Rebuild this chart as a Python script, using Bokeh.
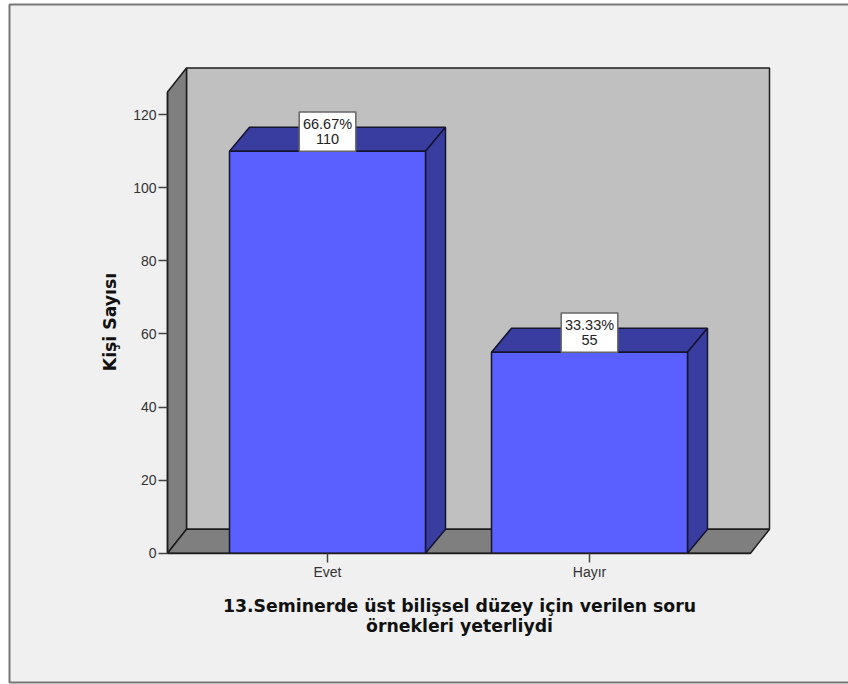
from bokeh.plotting import figure
from bokeh.embed import file_html
from bokeh.resources import INLINE
from bokeh.models import Range1d, FixedTicker, LinearAxis
from bokeh.core.properties import value

categories = ["Evet", "Hayır"]
counts = [110, 55]
percents = ["66.67%", "33.33%"]
y_ticks = [0, 20, 40, 60, 80, 100, 120]
x_title = ["13.Seminerde üst bilişsel düzey için verilen soru", "örnekleri yeterliydi"]
y_title = "Kişi Sayısı"

FONT = "Liberation Sans"
TITLE_FONT = "DejaVu Sans"
EDGE = "#14142e"
LINE = "#1c1c1c"

# pixel <-> data relation of the plot
PX_X0, PX_PER_CAT = 327.0, 262.0
PX_Y0, PX_PER_COUNT = 552.7, 3.655
W, H = 848, 684


def xd(px):
    return (px - PX_X0) / PX_PER_CAT


def yd(py):
    return (PX_Y0 - py) / PX_PER_COUNT


X0, X1 = xd(167), xd(750)
Y1 = yd(91.5)
DX, DY = 20 / PX_PER_CAT, 24 / PX_PER_COUNT
WDX = 19 / PX_PER_CAT
HW = 98 / PX_PER_CAT
xs = list(range(len(categories)))

p = figure(width=W, height=H, output_backend="svg", toolbar_location=None,
           x_range=Range1d(xd(0), xd(W)), y_range=Range1d(yd(H), yd(0)),
           x_axis_location=None, y_axis_location=None,
           min_border=0, background_fill_color="#ffffff", border_fill_color="#ffffff", outline_line_alpha=0)
p.styles = {"position": "absolute", "left": "0px", "top": "0px"}
p.grid.visible = False

# outer panel
p.quad(left=xd(9), right=xd(W + 20), top=yd(4), bottom=yd(682), fill_color="#f0f0f0", line_color="#777777", line_width=2)

# walls
p.patch([X0 + WDX, X1 + WDX, X1 + WDX, X0 + WDX], [DY, DY, Y1 + DY, Y1 + DY], fill_color="#c0c0c0", line_color=LINE, line_width=1.5)
p.patch([X0, X0 + WDX, X0 + WDX, X0], [0, DY, Y1 + DY, Y1], fill_color="#7f7f7f", line_color=LINE, line_width=1.5)
p.patch([X0, X1, X1 + WDX, X0 + WDX], [0, 0, DY, DY], fill_color="#7f7f7f", line_color=LINE, line_width=1.5)

# bars
for x, v, pct in zip(xs, counts, percents):
    l, r = x - HW, x + HW
    p.patch([l, r, r + DX, l + DX], [v, v, v + DY, v + DY], fill_color="#3a3da0", line_color=EDGE, line_width=1.5)
    p.patch([r, r + DX, r + DX, r], [0, DY, v + DY, v], fill_color="#3a3da0", line_color=EDGE, line_width=1.5)
    p.quad(left=l, right=r, bottom=0, top=v, fill_color="#5a5fff", line_color=EDGE, line_width=1.5)
    p.quad(left=x - 0.108, right=x + 0.108, bottom=v, top=v + 10.7, fill_color="#ffffff", line_color="#666666", line_width=1.5)
    p.text(x=[x], y=[v + 7.4], text=[pct], text_font=value(FONT), text_font_size="14.5px", text_color="#222222",
           text_align="center", text_baseline="middle")
    p.text(x=[x], y=[v + 3.2], text=[str(v)], text_font=value(FONT), text_font_size="14.5px", text_color="#222222",
           text_align="center", text_baseline="middle")

# axes
yaxis = LinearAxis(fixed_location=X0, ticker=FixedTicker(ticks=y_ticks), bounds=(0, Y1))
xaxis = LinearAxis(fixed_location=0, ticker=FixedTicker(ticks=xs), bounds=(X0, X1),
                   major_label_overrides=dict(zip(xs, categories)))
for ax in (xaxis, yaxis):
    ax.axis_line_color = LINE
    ax.axis_line_width = 1.5
    ax.major_tick_line_color = "#444444"
    ax.major_tick_line_width = 1.5
    ax.major_tick_in = 0
    ax.major_tick_out = 9
    ax.minor_tick_line_color = None
    ax.major_label_text_font = FONT
    ax.major_label_text_font_size = "14px"
    ax.major_label_text_color = "#333333"
    ax.major_label_standoff = 2
p.add_layout(yaxis, "left")
p.add_layout(xaxis, "below")

# titles
title_style = dict(text_font=value(TITLE_FONT), text_font_size="17.3px", text_font_style="bold", text_color="#111111",
                   text_align="center", text_baseline="middle")
p.text(x=[xd(459)], y=[yd(605)], text=[x_title[0]], **title_style)
p.text(x=[xd(459)], y=[yd(625)], text=[x_title[1]], **title_style)
p.text(x=[xd(109)], y=[yd(321.5)], text=[y_title], angle=90, angle_units="deg", **title_style)

open("out.html", "w").write(file_html(p, INLINE))
